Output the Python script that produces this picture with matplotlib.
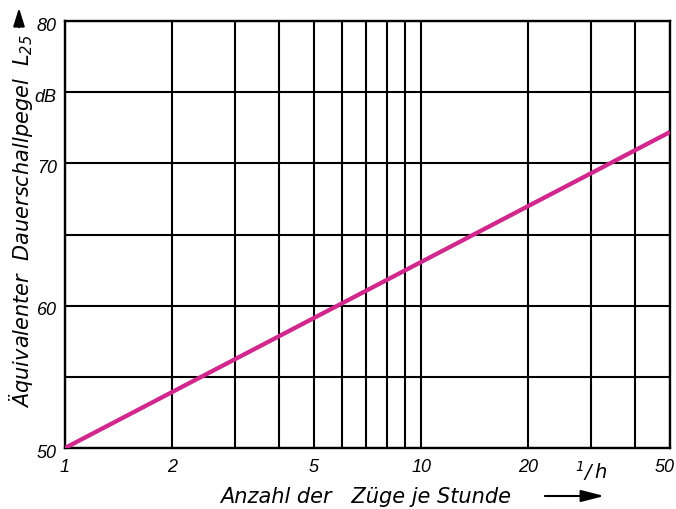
import matplotlib
matplotlib.use("Agg")
import matplotlib.pyplot as plt
from matplotlib.transforms import ScaledTranslation
from matplotlib.patches import FancyArrowPatch

# data
trains_per_hour = [1, 50]
level_db = [50, 72.2]
x_grid = [1, 2, 3, 4, 5, 6, 7, 8, 9, 10, 20, 30, 40, 50]
x_labels = ["1", "2", "", "", "5", "", "", "", "", "10", "20", "$^{1}/\\,h$", "", "50"]
y_grid = [50, 55, 60, 65, 70, 75, 80]
y_labels = ["50", "", "60", "", "70", "dB", "80"]

FONT = "DejaVu Sans"
TICKFONT = "Liberation Sans"

plt.rcParams["font.family"] = [FONT]
plt.rcParams["mathtext.fontset"] = "custom"
plt.rcParams["mathtext.it"] = FONT + ":italic"
plt.rcParams["mathtext.rm"] = FONT + ":italic"
plt.rcParams["mathtext.default"] = "it"

W, H = 676, 509
fig = plt.figure(figsize=(W / 100, H / 100), dpi=100)
ax = fig.add_axes([65 / W, 61 / H, 605 / W, 427 / H])

ax.set_xscale("log")
ax.set_xlim(1, 50)
ax.set_ylim(50, 80)

for xv in x_grid:
    ax.axvline(xv, color="black", lw=1.5, zorder=1)
for yv in y_grid:
    ax.axhline(yv, color="black", lw=1.5, zorder=1)

ax.plot(trains_per_hour, level_db, color="#d0288c", lw=3.1, zorder=3,
        solid_capstyle="butt")

ax.xaxis.set_minor_locator(matplotlib.ticker.NullLocator())
ax.set_xticks(x_grid)
ax.set_xticklabels(x_labels, style="italic", fontsize=13, family=[TICKFONT, FONT])
ax.set_yticks(y_grid)
ax.set_yticklabels(y_labels, style="italic", fontsize=13, family=[TICKFONT, FONT])
ax.tick_params(axis="x", length=0, pad=8)
ax.tick_params(axis="y", length=0, pad=6)

lbls = ax.get_xticklabels()
lbls[-1].set_transform(lbls[-1].get_transform() +
                       ScaledTranslation(-5 / 100, 0, fig.dpi_scale_trans))
lbls[11].set_fontsize(14)
for lb in ax.get_yticklabels():
    lb.set_transform(lb.get_transform() +
                     ScaledTranslation(0, -3 / 100, fig.dpi_scale_trans))

for s in ax.spines.values():
    s.set_linewidth(1.7)

fig.text(366 / W, 1 - 503 / H, "Anzahl der   Züge je Stunde", style="italic",
         fontsize=15, ha="center", va="baseline")
fig.text(21 / W, 1 - 221.5 / H, "Äquivalenter  Dauerschallpegel  $L_{25}$",
         style="italic", fontsize=15, rotation=90, ha="center", va="center")

# arrows
fig.add_artist(FancyArrowPatch(
    (19 / W, 1 - 30 / H), (19 / W, 1 - 5 / H), transform=fig.transFigure,
    arrowstyle="-|>,head_length=11,head_width=3.4", color="black", lw=1.5))
fig.add_artist(FancyArrowPatch(
    (542 / W, 1 - 496 / H), (607 / W, 1 - 496 / H), transform=fig.transFigure,
    arrowstyle="-|>,head_length=14,head_width=3.6", color="black", lw=1.5))

fig.savefig("out.png", dpi=100)
